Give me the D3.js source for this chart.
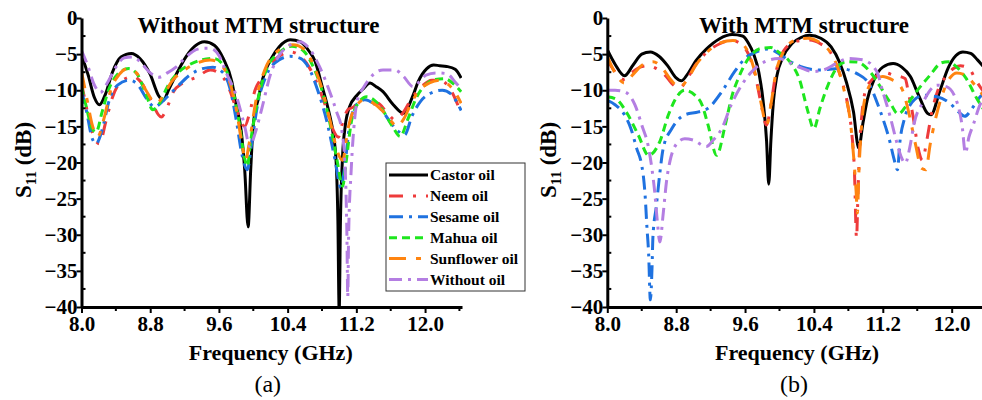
<!DOCTYPE html>
<html>
<head>
<meta charset="utf-8">
<script src="https://cdn.jsdelivr.net/npm/d3@7"></script>
<style>
  body { margin: 0; background: #fff; }
  svg { display: block; }
  text { font-family: 'Liberation Serif', 'Times New Roman', serif; }
</style>
</head>
<body>
<div id="chart"></div>
<script>
// ---- data: [frequency GHz, S11 dB] ----
const seriesNames = ['Castor oil', 'Neem oil', 'Sesame oil', 'Mahua oil', 'Sunflower oil', 'Without oil'];
const xTicks = [8.0, 8.8, 9.6, 10.4, 11.2, 12.0];
const yTicks = [0, -5, -10, -15, -20, -25, -30, -35, -40];
const panelTitles = ['Without MTM structure', 'With MTM structure'];
const panelTags = ['(a)', '(b)'];

// (a) without MTM
const castorA = [[8.0,-5.1],[8.08,-8.0],[8.15,-11.0],[8.21,-12.0],[8.28,-10.5],[8.36,-7.5],[8.46,-5.4],[8.58,-4.9],[8.68,-5.6],[8.8,-7.8],[8.9,-10.8],[8.95,-11.4],[9.02,-9.8],[9.12,-7.4],[9.22,-5.3],[9.32,-3.9],[9.43,-3.3],[9.55,-3.8],[9.65,-5.6],[9.75,-8.8],[9.8,-12.0],[9.86,-15.7],[9.9,-21],[9.94,-28.9],[9.97,-21],[10.0,-14.8],[10.06,-11.1],[10.11,-8.4],[10.21,-5.6],[10.3,-4.0],[10.43,-3.0],[10.55,-3.3],[10.65,-4.6],[10.72,-6.0],[10.8,-9.4],[10.88,-13.0],[10.93,-16.0],[10.965,-20],[10.985,-28],[11.0,-40.5],[11.015,-28],[11.04,-19],[11.07,-15],[11.12,-12.3],[11.2,-10.8],[11.28,-9.8],[11.36,-9.0],[11.43,-9.5],[11.51,-10.2],[11.63,-12.0],[11.75,-13.2],[11.86,-10.7],[11.92,-8.8],[12.02,-7.0],[12.1,-6.5],[12.17,-6.6],[12.25,-6.7],[12.35,-7.1],[12.42,-8.3]];
const neemA = [[8.0,-9.0],[8.06,-12.5],[8.13,-16.0],[8.21,-17.4],[8.28,-14.5],[8.36,-11.0],[8.46,-8.8],[8.6,-8.1],[8.7,-9.0],[8.8,-11.2],[8.93,-13.7],[9.0,-12.3],[9.07,-10.2],[9.18,-9.0],[9.34,-8.2],[9.5,-7.2],[9.62,-7.8],[9.72,-9.8],[9.8,-12.5],[9.9,-15.0],[9.96,-13.0],[10.02,-10.0],[10.08,-8.6],[10.15,-7.2],[10.3,-5.3],[10.43,-4.7],[10.55,-5.3],[10.65,-6.8],[10.75,-9.3],[10.85,-12.5],[10.93,-15.5],[10.99,-16.5],[11.04,-14.5],[11.1,-12.7],[11.17,-12.3],[11.26,-11.1],[11.35,-12.0],[11.45,-11.8],[11.55,-13.0],[11.65,-14.1],[11.75,-13.0],[11.85,-11.0],[11.95,-9.6],[12.08,-8.6],[12.18,-8.6],[12.3,-10.0],[12.42,-13.2]];
const sesameA = [[8.0,-10.0],[8.06,-13.0],[8.12,-16.5],[8.17,-17.4],[8.24,-15.5],[8.32,-11.5],[8.42,-9.3],[8.56,-8.6],[8.66,-9.3],[8.76,-11.2],[8.85,-12.3],[8.9,-12.0],[8.99,-11.0],[9.1,-9.7],[9.26,-7.9],[9.41,-7.0],[9.53,-6.8],[9.65,-7.6],[9.73,-9.8],[9.8,-14.0],[9.87,-19.0],[9.93,-21.0],[9.98,-17.5],[10.05,-12.0],[10.15,-8.0],[10.3,-5.8],[10.43,-5.3],[10.55,-5.6],[10.65,-7.0],[10.75,-10.0],[10.85,-14.0],[10.95,-19.5],[11.02,-23.5],[11.06,-21.0],[11.12,-15.0],[11.2,-12.0],[11.3,-11.3],[11.4,-11.8],[11.5,-12.8],[11.6,-14.5],[11.7,-15.8],[11.76,-16.2],[11.85,-13.5],[11.95,-11.5],[12.05,-10.5],[12.2,-10.0],[12.3,-10.5],[12.42,-12.8]];
const mahuaA = [[8.0,-9.5],[8.06,-12.5],[8.12,-15.2],[8.17,-15.8],[8.24,-13.0],[8.32,-9.8],[8.42,-7.8],[8.55,-7.0],[8.65,-7.8],[8.75,-10.5],[8.83,-12.7],[8.9,-12.0],[9.0,-9.5],[9.12,-7.6],[9.25,-6.5],[9.4,-5.8],[9.54,-5.6],[9.65,-6.5],[9.75,-9.5],[9.83,-14.0],[9.9,-19.5],[9.93,-20.5],[9.97,-17.0],[10.05,-11.5],[10.15,-7.2],[10.3,-4.8],[10.45,-3.9],[10.58,-4.5],[10.7,-6.8],[10.8,-10.0],[10.9,-15.0],[10.98,-20.0],[11.04,-23.3],[11.08,-20.0],[11.14,-14.5],[11.22,-11.8],[11.32,-10.9],[11.42,-11.5],[11.52,-13.0],[11.62,-15.0],[11.71,-16.4],[11.8,-14.0],[11.9,-11.0],[12.0,-9.3],[12.12,-8.5],[12.23,-8.4],[12.32,-9.0],[12.42,-10.2]];
const sunflowerA = [[8.0,-7.4],[8.06,-11.0],[8.13,-15.0],[8.19,-16.4],[8.26,-14.0],[8.34,-10.0],[8.44,-7.8],[8.54,-7.0],[8.64,-7.6],[8.75,-10.0],[8.87,-11.8],[8.95,-10.8],[9.05,-8.8],[9.2,-7.2],[9.35,-6.2],[9.5,-5.8],[9.6,-6.2],[9.7,-8.0],[9.8,-12.5],[9.87,-17.5],[9.91,-19.7],[9.95,-17.5],[10.03,-11.5],[10.13,-7.3],[10.28,-4.6],[10.46,-3.7],[10.6,-4.4],[10.7,-6.5],[10.8,-9.8],[10.9,-14.5],[10.98,-18.5],[11.04,-19.7],[11.1,-15.5],[11.18,-12.5],[11.3,-11.3],[11.4,-11.8],[11.5,-12.8],[11.6,-14.2],[11.67,-15.0],[11.75,-14.0],[11.85,-11.5],[11.95,-9.8],[12.05,-9.0],[12.17,-8.6],[12.27,-9.2],[12.35,-10.3],[12.42,-11.8]];
const withoutA = [[8.0,-4.5],[8.07,-6.5],[8.14,-9.0],[8.22,-10.3],[8.3,-9.0],[8.4,-6.8],[8.5,-5.5],[8.6,-5.4],[8.7,-6.3],[8.8,-7.6],[8.9,-8.2],[9.0,-7.6],[9.1,-6.8],[9.2,-5.6],[9.3,-4.6],[9.41,-4.2],[9.5,-4.2],[9.6,-5.2],[9.69,-7.7],[9.8,-10.7],[9.9,-15.0],[9.96,-17.8],[10.02,-16.0],[10.1,-12.5],[10.2,-7.8],[10.3,-5.2],[10.42,-3.8],[10.54,-3.3],[10.65,-4.2],[10.77,-6.7],[10.89,-10.2],[10.97,-13.0],[11.03,-15.5],[11.07,-21],[11.09,-30],[11.1,-38.6],[11.11,-30],[11.14,-21],[11.18,-14.0],[11.22,-11.0],[11.28,-9.7],[11.39,-7.9],[11.51,-7.2],[11.65,-7.2],[11.75,-8.1],[11.86,-9.5],[11.95,-8.6],[12.01,-7.9],[12.13,-7.6],[12.25,-7.7],[12.36,-9.0],[12.42,-9.8]];

// (b) with MTM
const castorB = [[8.0,-4.4],[8.09,-6.4],[8.2,-8.0],[8.3,-6.5],[8.4,-5.0],[8.5,-4.7],[8.6,-5.3],[8.7,-6.6],[8.8,-8.3],[8.86,-8.7],[8.93,-7.8],[9.03,-5.9],[9.15,-4.3],[9.3,-2.9],[9.45,-2.3],[9.57,-2.5],[9.64,-3.5],[9.7,-5.0],[9.76,-7.5],[9.81,-11.5],[9.85,-17],[9.875,-23],[9.9,-17],[9.93,-11.5],[9.97,-8.0],[10.04,-5.4],[10.14,-3.6],[10.25,-2.7],[10.35,-2.4],[10.48,-2.8],[10.6,-4.0],[10.7,-6.2],[10.78,-9.0],[10.86,-13.0],[10.92,-18.0],[10.97,-14.5],[11.02,-11.3],[11.1,-8.5],[11.2,-6.8],[11.32,-6.3],[11.42,-6.8],[11.52,-8.1],[11.62,-10.8],[11.72,-13.2],[11.76,-13.4],[11.86,-10.2],[11.96,-6.9],[12.05,-5.2],[12.13,-4.7],[12.22,-4.9],[12.3,-5.8],[12.42,-7.5]];
const neemB = [[8.0,-5.8],[8.1,-7.6],[8.19,-8.5],[8.28,-7.6],[8.38,-6.8],[8.47,-6.6],[8.57,-7.0],[8.67,-7.9],[8.76,-9.2],[8.84,-9.7],[8.92,-8.6],[9.02,-6.6],[9.15,-4.8],[9.3,-3.6],[9.44,-3.1],[9.55,-3.6],[9.65,-5.3],[9.72,-8.0],[9.78,-11.5],[9.85,-14.8],[9.9,-12.0],[9.96,-7.5],[10.05,-4.5],[10.2,-3.2],[10.35,-3.05],[10.48,-3.6],[10.59,-4.7],[10.66,-6.5],[10.74,-9.3],[10.8,-12.5],[10.84,-16],[10.87,-21],[10.895,-30.5],[10.91,-25],[10.93,-18],[10.96,-13.0],[11.0,-10.0],[11.07,-8.6],[11.16,-7.8],[11.24,-7.6],[11.32,-7.9],[11.4,-8.1],[11.46,-8.4],[11.5,-10.5],[11.55,-13.5],[11.61,-18.0],[11.66,-19.7],[11.71,-17.0],[11.77,-13.0],[11.84,-10.0],[11.94,-8.0],[12.02,-7.0],[12.1,-6.6],[12.2,-7.0],[12.29,-8.8],[12.42,-11.0]];
const sesameB = [[8.0,-11.4],[8.09,-12.0],[8.2,-13.4],[8.28,-15.5],[8.34,-18.0],[8.4,-20.4],[8.42,-22.0],[8.44,-24.7],[8.46,-28.9],[8.48,-32.6],[8.5,-39.0],[8.52,-34.4],[8.53,-30.3],[8.57,-26.0],[8.61,-21.5],[8.65,-18.0],[8.75,-15.3],[8.9,-13.4],[9.06,-13.0],[9.17,-12.5],[9.33,-10.2],[9.48,-7.4],[9.6,-5.6],[9.75,-4.6],[9.87,-4.3],[10.0,-5.0],[10.12,-6.0],[10.24,-6.7],[10.47,-7.2],[10.7,-7.0],[10.9,-7.7],[11.05,-9.3],[11.13,-11.6],[11.2,-13.9],[11.28,-17.0],[11.33,-19.5],[11.37,-21.0],[11.4,-17.0],[11.45,-14.0],[11.52,-12.0],[11.67,-10.7],[11.83,-10.9],[11.98,-11.8],[12.08,-13.0],[12.15,-13.6],[12.25,-12.3],[12.33,-10.9],[12.42,-10.2]];
const mahuaB = [[8.0,-10.9],[8.1,-11.2],[8.24,-13.4],[8.36,-16.2],[8.48,-19.0],[8.61,-17.1],[8.71,-13.4],[8.82,-10.7],[8.9,-10.0],[9.02,-10.7],[9.1,-12.0],[9.17,-14.8],[9.27,-19.0],[9.37,-14.8],[9.45,-10.7],[9.52,-8.4],[9.64,-5.6],[9.79,-4.2],[9.9,-4.1],[10.0,-4.8],[10.12,-6.05],[10.24,-8.8],[10.32,-12.5],[10.4,-15.3],[10.47,-12.5],[10.55,-9.7],[10.66,-7.0],[10.78,-6.05],[10.9,-6.1],[11.05,-7.4],[11.17,-9.5],[11.28,-11.6],[11.38,-13.3],[11.48,-12.0],[11.59,-10.2],[11.75,-7.9],[11.88,-6.2],[11.96,-6.05],[12.06,-6.8],[12.17,-8.4],[12.29,-11.1],[12.42,-13.5]];
const sunflowerB = [[8.0,-5.3],[8.1,-7.8],[8.2,-9.0],[8.3,-7.8],[8.42,-6.4],[8.53,-6.05],[8.63,-6.8],[8.74,-8.6],[8.84,-9.6],[8.93,-8.5],[9.03,-6.5],[9.17,-4.6],[9.32,-3.4],[9.46,-3.1],[9.57,-3.6],[9.66,-5.4],[9.73,-8.3],[9.79,-12.0],[9.85,-14.8],[9.9,-12.0],[9.96,-7.5],[10.05,-4.6],[10.18,-3.1],[10.33,-2.8],[10.48,-3.5],[10.6,-4.9],[10.68,-7.0],[10.76,-10.5],[10.82,-14.0],[10.86,-19.0],[10.89,-24.0],[10.905,-27.0],[10.92,-22.0],[10.96,-14.0],[11.02,-10.0],[11.11,-8.6],[11.2,-8.1],[11.3,-8.5],[11.37,-9.0],[11.43,-10.0],[11.5,-13.0],[11.58,-17.5],[11.65,-20.8],[11.7,-21.0],[11.75,-17.5],[11.8,-14.6],[11.88,-11.0],[11.98,-8.3],[12.06,-7.6],[12.17,-8.0],[12.29,-9.6],[12.42,-11.5]];
const withoutB = [[8.0,-10.0],[8.09,-10.0],[8.2,-10.2],[8.32,-12.0],[8.4,-14.8],[8.48,-18.0],[8.52,-21.0],[8.55,-24.0],[8.58,-28.0],[8.61,-31.0],[8.65,-27.0],[8.69,-22.4],[8.73,-19.7],[8.8,-17.5],[8.9,-16.7],[9.0,-16.9],[9.15,-17.8],[9.23,-16.9],[9.33,-15.3],[9.44,-12.0],[9.56,-9.3],[9.68,-7.4],[9.83,-6.05],[9.99,-5.6],[10.12,-6.2],[10.25,-6.9],[10.39,-7.4],[10.51,-7.2],[10.66,-6.3],[10.8,-5.6],[10.97,-5.8],[11.13,-7.4],[11.2,-10.2],[11.28,-13.4],[11.36,-17.1],[11.42,-19.4],[11.46,-20.1],[11.52,-17.5],[11.56,-14.8],[11.67,-11.6],[11.83,-9.3],[11.94,-9.5],[12.06,-11.6],[12.12,-14.8],[12.16,-18.7],[12.2,-16.5],[12.25,-14.8],[12.33,-12.0],[12.42,-10.5]];

const colors = ['#000000', '#ee3b3b', '#1f72e0', '#1ee61e', '#ff8410', '#b47ee2'];
const dashes = ['none', '14,10,3,10', '14,6,3,6', '8,5', '17,10,5,10', '13,6,3,6'];

const panels = [
  { x0: 81.5, x1: 462, series: [castorA, neemA, sesameA, mahuaA, sunflowerA, withoutA] },
  { x0: 607.3, x1: 988.7, series: [castorB, neemB, sesameB, mahuaB, sunflowerB, withoutB] }
];

const W = 982, H = 400;
const plotTop = 18, plotBottom = 307;
const font = "'Liberation Serif', 'Times New Roman', serif";

const svg = d3.select('#chart').append('svg')
  .attr('width', W).attr('height', H);

panels.forEach((p, pi) => {
  const x = d3.scaleLinear().domain([8, 12.43]).range([p.x0, p.x1]);
  const y = d3.scaleLinear().domain([-40, 0]).range([plotBottom, plotTop]);
  const g = svg.append('g');

  g.append('clipPath').attr('id', 'clip' + pi)
    .append('rect')
    .attr('x', p.x0).attr('y', plotTop - 2)
    .attr('width', p.x1 - p.x0).attr('height', plotBottom - plotTop + 1);

  // Curves
  const line = d3.line()
    .x(d => x(d[0]))
    .y(d => y(d[1]))
    .curve(d3.curveMonotoneX);

  const curves = g.append('g').attr('clip-path', `url(#clip${pi})`);
  p.series.forEach((s, i) => {
    curves.append('path')
      .datum(s)
      .attr('d', line)
      .attr('fill', 'none')
      .attr('stroke', colors[i])
      .attr('stroke-width', 3)
      .attr('stroke-dasharray', dashes[i])
      .attr('stroke-linejoin', 'round');
  });

  // Axes
  const xMinor = d3.range(8.4, 12.41, 0.8);
  const xAxis = g.append('g').attr('transform', `translate(0,${plotBottom})`);
  xAxis.call(d3.axisBottom(x).tickValues(xTicks).tickFormat(d3.format('.1f')).tickSize(6).tickSizeOuter(0))
    .call(a => a.select('.domain').attr('stroke-width', 3))
    .call(a => a.selectAll('.tick line').attr('stroke-width', 2));
  xAxis.selectAll('.tick text')
    .attr('dy', null).attr('y', 24)
    .style('font-family', font).style('font-size', '21px').style('font-weight', 'bold')
    .attr('fill', '#000');
  xAxis.selectAll('.minor').data(xMinor).join('line')
    .attr('x1', d => x(d)).attr('x2', d => x(d))
    .attr('y1', 0).attr('y2', 4)
    .attr('stroke', '#000').attr('stroke-width', 2);

  const yMinor = d3.range(-37.5, 0, 5);
  const yAxis = g.append('g').attr('transform', `translate(${p.x0},0)`);
  yAxis.call(d3.axisLeft(y).tickValues(yTicks).tickSize(5).tickSizeOuter(0))
    .call(a => a.select('.domain').attr('stroke-width', 3))
    .call(a => a.selectAll('.tick line').attr('stroke-width', 2));
  yAxis.selectAll('.tick text')
    .attr('x', -4)
    .style('font-family', font).style('font-size', '21px').style('font-weight', 'bold')
    .attr('fill', '#000');
  yAxis.selectAll('.minor').data(yMinor).join('line')
    .attr('x1', 0).attr('x2', 4)
    .attr('y1', d => y(d)).attr('y2', d => y(d))
    .attr('stroke', '#000').attr('stroke-width', 2);

  const cx = (p.x0 + p.x1) / 2;

  // Titles
  g.append('text')
    .attr('x', pi === 0 ? 258.5 : 804)
    .attr('y', 33)
    .attr('text-anchor', 'middle')
    .style('font-family', font).style('font-weight', 'bold')
    .style('font-size', '23px')
    .text(panelTitles[pi]);

  g.append('text')
    .attr('x', cx - 1).attr('y', 360)
    .attr('text-anchor', 'middle')
    .style('font-family', font).style('font-weight', 'bold').style('font-size', '22px')
    .text('Frequency (GHz)');

  g.append('text')
    .attr('x', cx - 4).attr('y', 392)
    .attr('text-anchor', 'middle')
    .style('font-family', font).style('font-size', '24px')
    .text(panelTags[pi]);

  const yl = g.append('text')
    .attr('transform', `translate(${p.x0 - 51},160) rotate(-90)`)
    .attr('text-anchor', 'middle')
    .style('font-family', font).style('font-weight', 'bold').style('font-size', '23px');
  yl.append('tspan').text('S');
  yl.append('tspan').attr('dy', 5).style('font-size', '15px').text('11');
  yl.append('tspan').attr('dy', -5).text(' (dB)');
});

// Legend (sits inside panel a, spilling to the right)
const legend = svg.append('g');
legend.append('rect')
  .attr('x', 386).attr('y', 163).attr('width', 139).attr('height', 128)
  .attr('fill', '#fff').attr('stroke', '#333').attr('stroke-width', 1);

seriesNames.forEach((name, i) => {
  const ly = 175 + i * 20.9;
  legend.append('line')
    .attr('x1', 389).attr('x2', 428).attr('y1', ly).attr('y2', ly)
    .attr('stroke', colors[i]).attr('stroke-width', 3)
    .attr('stroke-dasharray', dashes[i]);
  legend.append('text')
    .attr('x', 430).attr('y', ly).attr('dy', '0.35em')
    .style('font-family', font).style('font-weight', 'bold').style('font-size', '15.5px')
    .text(name);
});
</script>
</body>
</html>
